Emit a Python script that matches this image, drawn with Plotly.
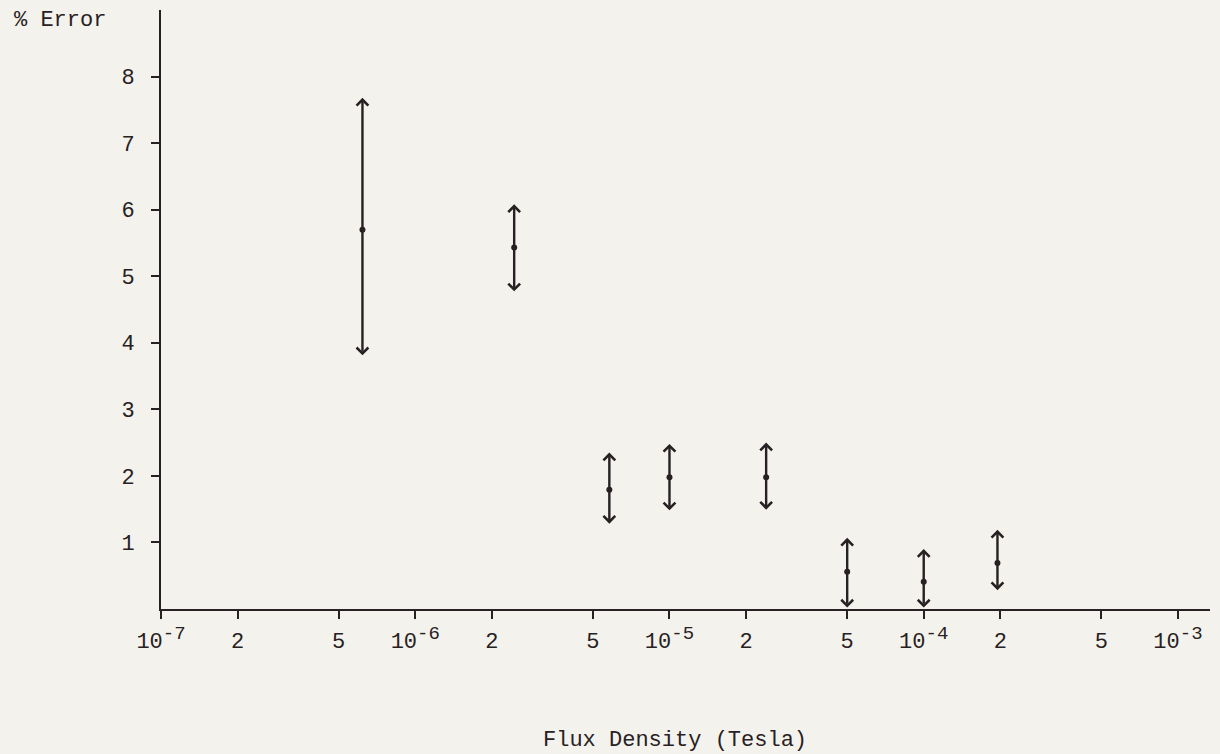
import numpy as np
import plotly.graph_objects as go

# Data
flux_density = [6.2e-7, 2.45e-6, 5.8e-6, 1.0e-5, 2.4e-5, 5.0e-5, 1.0e-4, 1.95e-4]
pct_error = [5.70, 5.43, 1.79, 1.98, 1.98, 0.56, 0.41, 0.69]
err_upper = [7.68, 6.08, 2.35, 2.48, 2.50, 1.07, 0.90, 1.19]
err_lower = [3.79, 4.75, 1.26, 1.46, 1.47, 0.00, 0.00, 0.26]

x_tickvals = [1e-7, 2e-7, 5e-7, 1e-6, 2e-6, 5e-6, 1e-5, 2e-5, 5e-5, 1e-4, 2e-4, 5e-4, 1e-3]
sup = "<sup><span style='font-size:19px'>{}</span></sup>"
x_ticktext = ["10" + sup.format("-7"), "2", "5", "10" + sup.format("-6"), "2", "5",
              "10" + sup.format("-5"), "2", "5", "10" + sup.format("-4"), "2", "5",
              "10" + sup.format("-3")]
y_tickvals = [1, 2, 3, 4, 5, 6, 7, 8]

INK = "#272123"
BG = "#f4f2ec"
FONT = "Liberation Mono"

fig = go.Figure()
fig.add_trace(go.Scatter(
    x=flux_density, y=pct_error, mode="markers",
    marker=dict(size=6, color=INK), showlegend=False, cliponaxis=False,
))

annotations = []
for xv, hi, lo in zip(flux_density, err_upper, err_lower):
    lx = float(np.log10(xv))
    annotations.append(dict(
        x=lx, y=hi, ax=lx, ay=lo, xref="x", yref="y", axref="x", ayref="y",
        text="", showarrow=True, arrowside="end+start",
        arrowhead=4, startarrowhead=4, arrowsize=0.95, startarrowsize=0.95,
        arrowwidth=2.4, arrowcolor=INK, standoff=0, startstandoff=0,
    ))

annotations.append(dict(
    text="% Error", xref="paper", yref="paper", x=-0.142, y=0.983,
    xanchor="left", yanchor="middle", showarrow=False,
    font=dict(family=FONT, size=22, color=INK),
))
annotations.append(dict(
    text="Flux Density (Tesla)", xref="paper", yref="paper", x=0.49, y=-0.219,
    xanchor="center", yanchor="middle", showarrow=False,
    font=dict(family=FONT, size=22, color=INK),
))

fig.update_layout(
    width=1220, height=754,
    margin=dict(l=161, r=10, t=10, b=145),
    paper_bgcolor=BG, plot_bgcolor=BG,
    font=dict(family=FONT, size=22, color=INK),
    annotations=annotations,
    showlegend=False,
)
fig.update_xaxes(
    type="log", range=[-7, -2.874],
    tickvals=x_tickvals, ticktext=x_ticktext,
    showline=True, linewidth=2, linecolor=INK,
    ticks="outside", ticklen=8, tickwidth=2, tickcolor=INK,
    showgrid=False, zeroline=False, ticklabelstandoff=3,
    tickfont=dict(family=FONT, size=22, color=INK),
)
fig.update_yaxes(
    range=[0, 9], tickvals=y_tickvals,
    showline=True, linewidth=2, linecolor=INK,
    ticks="outside", ticklen=8, tickwidth=2, tickcolor=INK,
    showgrid=False, zeroline=False, ticklabelstandoff=12,
    tickfont=dict(family=FONT, size=22, color=INK),
)

fig.write_html(
    "out.html",
    config={"displayModeBar": False},
    post_script="document.body.style.margin='0';document.body.style.overflow='hidden';"
                "document.body.style.background='" + BG + "';",
)
